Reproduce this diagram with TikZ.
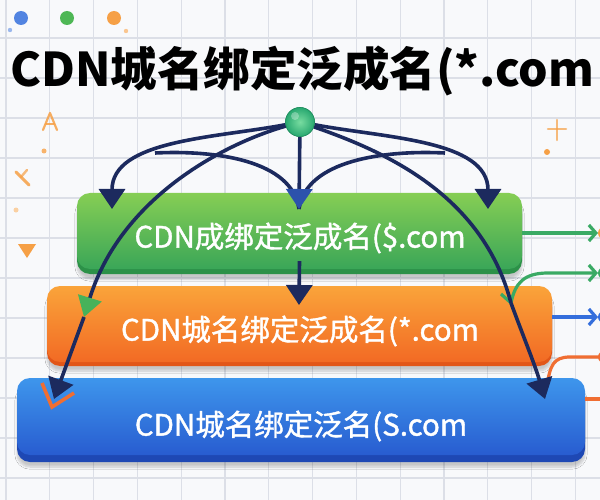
\documentclass[tikz,border=0pt]{standalone}
\usepackage{fontspec}
\setmainfont{Noto Sans CJK SC}
\newfontfamily\boxfont{Noto Sans CJK SC}[FakeBold=1.3]
\usetikzlibrary{arrows.meta,shadows.blur}
\definecolor{bgc}{RGB}{248,249,251}
\definecolor{gridc}{RGB}{220,223,231}
\definecolor{navy}{RGB}{28,42,94}
\definecolor{arrblue}{RGB}{44,82,172}
\definecolor{gtop}{RGB}{134,206,84}
\definecolor{gbot}{RGB}{58,166,88}
\definecolor{gdark}{RGB}{44,145,72}
\definecolor{otop}{RGB}{250,164,58}
\definecolor{obot}{RGB}{242,106,36}
\definecolor{odark}{RGB}{226,86,24}
\definecolor{btop}{RGB}{62,150,236}
\definecolor{bbot}{RGB}{40,92,208}
\definecolor{bdark}{RGB}{30,72,180}
\definecolor{hubc}{RGB}{40,168,112}
\definecolor{hublight}{RGB}{120,220,160}
\definecolor{linegreen}{RGB}{58,170,100}
\definecolor{lineblue}{RGB}{52,110,220}
\definecolor{lineorange}{RGB}{240,110,50}
\definecolor{deco}{RGB}{246,160,70}
\tikzset{
  boxbase/.style={rounded corners=13pt, blur shadow={shadow blur steps=8, shadow xshift=0pt, shadow yshift=-5pt, shadow opacity=20}},
  boxnode/.style={rounded corners=13pt, inner sep=0pt},
  boxtext/.style={text=white, font=\boxfont\fontsize{29.5}{33}\selectfont},
  navyline/.style={draw=navy, line width=3.6pt},
  bigtip/.style={-{Triangle[width=26pt,length=20pt]}},
  sidearrow/.style={line width=3.2pt, -{Straight Barb[length=7pt,width=16pt]}},
  hubstyle/.style={circle, minimum size=29pt, inner sep=0pt, inner color=hublight, outer color=hubc, draw=hubc!85!black, line width=0.6pt},
}
\begin{document}
\begin{tikzpicture}[x=1pt,y=-1pt]
\useasboundingbox (0,0) rectangle (600,500);
\fill[bgc] (0,0) rectangle (600,500);
\foreach \i in {0,...,13} \draw[gridc,line width=1.1pt] ({6+43.8*\i},0) -- ({6+43.8*\i},500);
\foreach \j in {0,...,11} \draw[gridc,line width=1.1pt] (0,{38+40*\j}) -- (600,{38+40*\j});

% decorations top-left dots
\fill[lineblue!85] (21,18) circle (7);
\fill[linegreen!85!lime] (67,18) circle (7);
\fill[deco] (114,18) circle (7);
\fill[lineblue!50] (10,30) circle (2.2);
\fill[deco!60] (126,31) circle (2.2);

% side decorations
\draw[deco, line width=2.2pt, line cap=round, line join=round, opacity=0.85] (43,130) -- (50,113) -- (57,130);
\draw[deco, line width=2pt, line cap=round, opacity=0.85] (46,124) -- (54,124);
\fill[deco!80] (44,151) circle (2.5);
\draw[deco, line width=3pt, line cap=round, opacity=0.85] (16,172) -- (29,185);
\draw[deco, line width=2.4pt, line cap=round, opacity=0.7] (27,170) -- (21,177);
\fill[deco!50] (16,210) circle (2.5);
\fill[deco] (18,244) -- (36,244) -- (27,258) -- cycle;
\draw[deco, line width=2.5pt, line cap=round, opacity=0.7] (548,129) -- (566,129);
\draw[deco, line width=2.5pt, line cap=round, opacity=0.7] (557,120) -- (557,140);
\fill[deco] (547,152) circle (3);

% title
\node[font=\bfseries\fontsize{46.5}{54}\selectfont, text=black] (title) at (302,71) {CDN城名绑定泛成名(*.com};

% boxes
\fill[bdark, boxbase] (17,383) rectangle (585,462);
\node[boxnode, top color=btop, bottom color=bbot, minimum width=568pt, minimum height=77pt] (bbox) at (301,416.5) {};
\node[boxtext] (btext) at (301,426) {CDN城名绑定泛名(S.com};

\fill[odark, boxbase] (47,289) rectangle (552,366);
\node[boxnode, top color=otop, bottom color=obot, minimum width=505pt, minimum height=76pt] (obox) at (299.5,324) {};
\node[boxtext] (otext) at (300,331) {CDN城名绑定泛成名(*.com};

\fill[gdark, boxbase] (77,196) rectangle (522,274);
\node[boxnode, top color=gtop, bottom color=gbot, minimum width=445pt, minimum height=76pt] (gbox) at (299.5,231) {};
\node[boxtext] (gtext) at (300,238) {CDN成绑定泛成名(\$.com};

% hub and coordinates
\node[hubstyle] (hub) at (300,122) {};
\coordinate (tL) at (112,209);
\coordinate (tC) at (299,209);
\coordinate (tR) at (488,209);
\coordinate (cl) at (155,153);
\coordinate (cr) at (445,153);
\coordinate (gl) at (84,317);
\coordinate (tLL) at (54,399);
\coordinate (gr) at (511,303);
\coordinate (tRR) at (545,399);
\coordinate (tM) at (299,305);
\coordinate (e1) at (598,233);
\coordinate (e2) at (598,273);
\coordinate (e3) at (598,317);
\coordinate (e4) at (600,357);
\coordinate (e5) at (600,399);

% right side arrows
\draw[linegreen, sidearrow] (gbox.east |- e1) -- (e1);
\draw[linegreen, sidearrow, line join=round] (501,294) -- (gr) .. controls (515,283) and (524,273) .. (548,273) -- (e2);
\draw[lineblue, sidearrow] ([yshift=7pt]obox.east) -- (e3);
\draw[lineorange, line width=3.2pt] (547,386) .. controls (550,366) and (553,357) .. (570,357) -- (e4);
\draw[lineorange, line width=3.2pt] (bbox.east |- e5) -- (e5);
\fill[deco] (604,233) circle (6);
\fill[linegreen] (604,273) circle (6);
\fill[lineblue] (604,317) circle (6);
\fill[lineorange] (604,357) circle (6);

% navy connectors
\draw[navyline, bigtip] (hub) .. controls (215,138) and (112,140) .. (tL);
\draw[navyline, bigtip] (hub) .. controls (385,138) and (488,140) .. (tR);
\draw[navyline] (cl) .. controls (215,150) and (292,160) .. (tC);
\draw[navyline] (cr) .. controls (385,150) and (306,160) .. (tC);
\draw[navyline, -{Triangle[width=26pt,length=20pt,fill=arrblue,color=arrblue]}] (hub) -- (tC);
\draw[navyline, -{Triangle[width=24pt,length=20pt,fill=linegreen!90!lime,color=linegreen!90!lime]}] (hub) .. controls (220,145) and (120,200) .. (gl);
\draw[lineorange, line width=3.6pt, line join=miter] (42,383) -- (52,407) -- (74,393);
\draw[navyline, bigtip] (gl) -- (tLL);
\draw[navyline] (hub) .. controls (380,150) and (482,192) .. (gr);
\draw[navyline, bigtip] (gr) .. controls (522,333) and (535,365) .. (tRR);
\draw[navyline, bigtip] ([yshift=8pt]gbox.south) -- (tM);
\node[hubstyle] at (hub) {};
\fill[white, opacity=0.3] (295,116) circle (4);
\end{tikzpicture}
\end{document}
